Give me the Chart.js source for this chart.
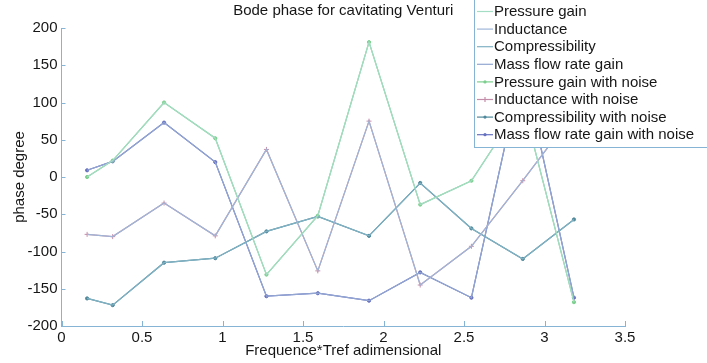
<!DOCTYPE html>
<html lang="en">
<head>
<meta charset="UTF-8">
<title>Bode phase for cavitating Venturi</title>
<script src="https://cdn.jsdelivr.net/npm/chart.js"></script>
<style>
    body { margin: 0; background: #ffffff; }
    #wrap { width: 707px; height: 363px; position: relative; }
</style>
</head>
<body>
<div id="wrap"><canvas id="bodeChart"></canvas></div>
<script>
// frequence*Tref (adimensional)
const freq = [0.159, 0.318, 0.637, 0.955, 1.273, 1.592, 1.910, 2.228, 2.546, 2.865, 3.183];

// phase in degrees
const pressureGain    = [0, 22, 100, 52, -131, -52, 181, -37, -5, 100, -168];
const inductance      = [-77, -80, -35, -79, 37, -126, 75, -145, -93, -5, 86];
const compressibility = [-163, -172, -115, -109, -73, -53, -79, -8, -69, -110, -57];
const massFlowGain    = [9, 21, 73, 20, -160, -156, -166, -128, -162, 150, -162];

const xTicks = [0, 0.5, 1, 1.5, 2, 2.5, 3, 3.5];
const yTicks = [-200, -150, -100, -50, 0, 50, 100, 150, 200];

const FONT = "'Liberation Sans', Arial, sans-serif";
const FSIZE = 15;
const TEXT = '#161616';
const AXIS_COLOR = '#86b4d4';

function pts(values) {
    return values.map((v, i) => ({ x: freq[i], y: v }));
}

function serie(label, values, color, marker) {
    return {
        label: label,
        data: pts(values),
        borderColor: color,
        backgroundColor: color,
        borderWidth: 1.2,
        pointStyle: marker || 'circle',
        pointRadius: marker ? (marker === 'cross' ? 2.5 : 1.6) : 0,
        pointBorderWidth: 1,
        tension: 0,
        fill: false
    };
}

const datasets = [
    serie('Pressure gain', pressureGain, '#a4dcc4'),
    serie('Inductance', inductance, '#9fb6d8'),
    serie('Compressibility', compressibility, '#80b2c4'),
    serie('Mass flow rate gain', massFlowGain, '#93a6d2'),
    serie('Pressure gain with noise', pressureGain, '#7ccf8e', 'circle'),
    serie('Inductance with noise', inductance, '#c48ea8', 'cross'),
    serie('Compressibility with noise', compressibility, '#4f889b', 'circle'),
    serie('Mass flow rate gain with noise', massFlowGain, '#6671c0', 'circle')
];

// matlab style: inward ticks, title, legend box over the plot
const matlabLook = {
    id: 'matlabLook',
    afterDraw(chart) {
        const ctx = chart.ctx;
        const area = chart.chartArea;
        const xs = chart.scales.x, ys = chart.scales.y;
        ctx.save();
        ctx.strokeStyle = AXIS_COLOR;
        ctx.lineWidth = 1;
        ctx.beginPath();
        yTicks.forEach(v => {
            const p = Math.round(ys.getPixelForValue(v)) + 0.5;
            ctx.moveTo(area.left, p);
            ctx.lineTo(area.left + 4, p);
        });
        xTicks.forEach(v => {
            const p = Math.round(xs.getPixelForValue(v)) + 0.5;
            ctx.moveTo(p, area.bottom);
            ctx.lineTo(p, area.bottom - 5);
        });
        ctx.stroke();

        // title
        ctx.fillStyle = TEXT;
        ctx.font = FSIZE + 'px ' + FONT;
        ctx.textAlign = 'center';
        ctx.textBaseline = 'middle';
        ctx.fillText('Bode phase for cavitating Venturi', (area.left + area.right) / 2, 11);

        // legend
        const bx = 474.5, by = -2, bw = 240, bh = 149.5;
        ctx.fillStyle = '#ffffff';
        ctx.fillRect(bx, by, bw, bh);
        ctx.strokeStyle = AXIS_COLOR;
        ctx.strokeRect(bx, by, bw, bh);
        ctx.textAlign = 'left';
        chart.data.datasets.forEach((ds, i) => {
            const y = 11.5 + i * 17.6;
            ctx.strokeStyle = ds.borderColor;
            ctx.lineWidth = 1.2;
            ctx.beginPath();
            ctx.moveTo(477, y);
            ctx.lineTo(493, y);
            ctx.stroke();
            if (ds.pointRadius > 0) {
                ctx.fillStyle = ds.borderColor;
                ctx.beginPath();
                if (ds.pointStyle === 'cross') {
                    ctx.moveTo(485 - 2.5, y); ctx.lineTo(485 + 2.5, y);
                    ctx.moveTo(485, y - 2.5); ctx.lineTo(485, y + 2.5);
                    ctx.stroke();
                } else {
                    ctx.arc(485, y, 1.6, 0, Math.PI * 2);
                    ctx.fill();
                }
            }
            ctx.fillStyle = TEXT;
            ctx.fillText(ds.label, 494, y + 0.5);
        });
        ctx.restore();
    }
};

const ctx = document.getElementById('bodeChart').getContext('2d');
new Chart(ctx, {
    type: 'line',
    data: { datasets: datasets },
    options: {
        responsive: true,
        maintainAspectRatio: false,
        animation: false,
        layout: { padding: { top: 28, right: 82, left: 0, bottom: 0 } },
        scales: {
            x: {
                type: 'linear',
                min: 0,
                max: 3.5,
                afterFit: s => { s.height = 37; },
                afterBuildTicks: s => { s.ticks = xTicks.map(v => ({ value: v })); },
                border: { display: true, color: AXIS_COLOR, width: 1 },
                grid: { display: true, drawOnChartArea: false, drawTicks: false, color: 'rgba(0,0,0,0)' },
                ticks: {
                    color: TEXT,
                    padding: 3,
                    maxRotation: 0,
                    font: { family: FONT, size: FSIZE },
                    callback: v => String(v)
                },
                title: {
                    display: true,
                    text: 'Frequence*Tref adimensional',
                    color: TEXT,
                    font: { family: FONT, size: FSIZE },
                    padding: { top: 0, bottom: 3 }
                }
            },
            y: {
                type: 'linear',
                min: -200,
                max: 200,
                afterFit: s => { s.width = 61.5; },
                afterBuildTicks: s => { s.ticks = yTicks.map(v => ({ value: v })); },
                border: { display: true, color: AXIS_COLOR, width: 1 },
                grid: { display: true, drawOnChartArea: false, drawTicks: false, color: 'rgba(0,0,0,0)' },
                ticks: {
                    color: TEXT,
                    padding: 4,
                    font: { family: FONT, size: FSIZE },
                    callback: v => String(v)
                },
                title: {
                    display: true,
                    text: 'phase degree',
                    color: TEXT,
                    font: { family: FONT, size: FSIZE },
                    padding: { top: 11, bottom: 0 }
                }
            }
        },
        plugins: {
            legend: { display: false },
            tooltip: { enabled: false }
        }
    },
    plugins: [matlabLook]
});
</script>
</body>
</html>
